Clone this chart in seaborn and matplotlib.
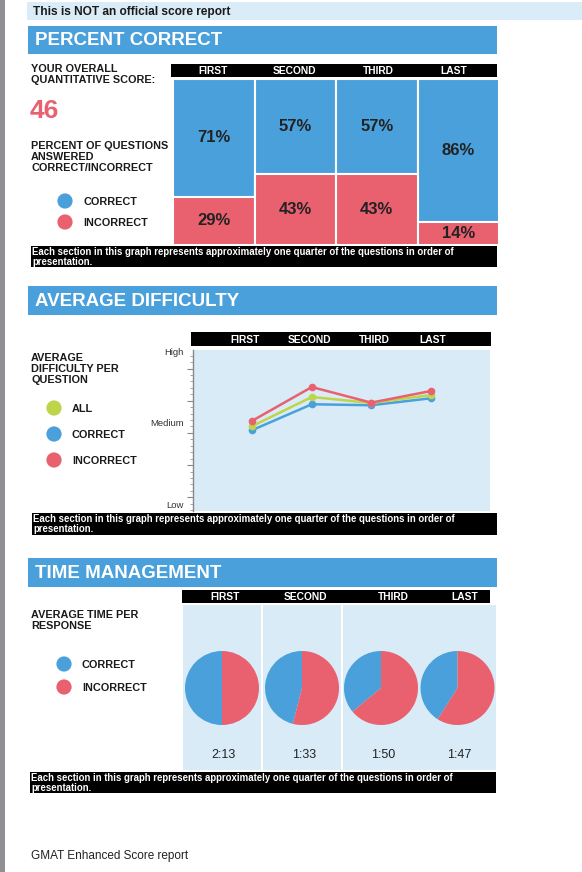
import numpy as np
import pandas as pd
import matplotlib.pyplot as plt
from matplotlib.patches import Rectangle
from matplotlib.ticker import FixedLocator
import seaborn as sns

# ---- data ----
sections = ["FIRST", "SECOND", "THIRD", "LAST"]
overall_score = 46
pct_correct = [71, 57, 57, 86]
pct_incorrect = [29, 43, 43, 14]

# difficulty on a 0 (Low) .. 100 (High) scale
diff_all = [52.8, 70.8, 67.1, 72.0]
diff_correct = [50.3, 66.3, 65.7, 70.0]
diff_incorrect = [56.1, 77.0, 67.3, 74.5]

# share of time spent on correct / incorrect answers
time_correct = [50, 46, 36, 41]
time_incorrect = [50, 54, 64, 59]
avg_time = ["2:13", "1:33", "1:50", "1:47"]

footnote = ("Each section in this graph represents approximately one quarter of the questions in order of\n"
            "presentation.")

BLUE = "#4aa0db"
RED = "#e9606f"
GREEN = "#bed44a"
LIGHT = "#d8ebf7"
DARK = "#1a1a1a"

sns.set_theme(style="white")
plt.rcParams["font.family"] = ["Liberation Sans", "DejaVu Sans"]

W, H = 582, 872
fig = plt.figure(figsize=(W / 100, H / 100), dpi=100)
fig.patch.set_facecolor("white")

# overlay axes in pixel coordinates for the page furniture
page = fig.add_axes([0, 0, 1, 1])
page.set_xlim(0, W)
page.set_ylim(H, 0)
page.axis("off")


def px_axes(x0, y0, x1, y1):
    return fig.add_axes([x0 / W, 1 - y1 / H, (x1 - x0) / W, (y1 - y0) / H])


def rect(x0, y0, x1, y1, color):
    page.add_patch(Rectangle((x0, y0), x1 - x0, y1 - y0, color=color, lw=0))


def label(x, y, s, size=7.8, weight="bold", color=DARK, **kw):
    page.text(x, y, s, fontsize=size, fontweight=weight, color=color, **kw)


def header(y0, y1, title):
    rect(28, y0, 497, y1, BLUE)
    label(35, (y0 + y1) / 2 + 0.5, title, size=13.5, color="white", va="center")


def black_bar(x0, y0, x1, y1, xs):
    rect(x0, y0, x1, y1, "black")
    for x, s in zip(xs, sections):
        label(x, (y0 + y1) / 2 + 0.5, s, size=7.4, color="white", ha="center", va="center")


def note(x0, y0, x1, y1):
    rect(x0, y0, x1, y1, "black")
    label(x0 + 1, y0 + 0.5, footnote, size=6.9, color="white", va="top", linespacing=1.0)


def dots(x, ys, colors, names, tx):
    page.scatter([x] * len(ys), ys, s=120, c=colors, linewidths=0)
    for y, n in zip(ys, names):
        label(tx, y + 1, n, va="center")


# left grey strip and top banner
rect(0, 0, 5, H, "#909094")
rect(27, 2, W, 20, "#d9ecf8")
label(33, 12, "This is NOT an official score report", size=8.6, va="center")

# =========================
# PERCENT CORRECT
# =========================
header(26, 54, "PERCENT CORRECT")
black_bar(171, 64, 497, 77, [213, 294, 378, 454])
label(31, 64, "YOUR OVERALL\nQUANTITATIVE SCORE:", va="top", linespacing=1.1)
label(30, 111, str(overall_score), size=19, color=RED, va="center")
label(31, 141, "PERCENT OF QUESTIONS\nANSWERED\nCORRECT/INCORRECT", va="top", linespacing=1.1)
dots(65, [201, 222], [BLUE, RED], ["CORRECT", "INCORRECT"], 83)

ax1 = px_axes(173, 79, 499, 245)
ax1.patch.set_alpha(0)
sns.barplot(x=sections, y=np.add(pct_correct, pct_incorrect), color=BLUE, saturation=1,
            width=1, edgecolor="white", linewidth=1.5, ax=ax1)
sns.barplot(x=sections, y=pct_incorrect, color=RED, saturation=1,
            width=1, edgecolor="white", linewidth=1.5, ax=ax1)
for i in range(len(sections)):
    ax1.text(i, pct_incorrect[i] + pct_correct[i] / 2, f"{pct_correct[i]}%",
             ha="center", va="center", fontsize=12, fontweight="bold", color="#222222")
    ax1.text(i, pct_incorrect[i] / 2, f"{pct_incorrect[i]}%",
             ha="center", va="center", fontsize=12, fontweight="bold", color="#222222")
ax1.set_xlim(-0.5, 3.5)
ax1.set_ylim(0, 100)
ax1.axis("off")
note(31, 246, 497, 267)

# =========================
# AVERAGE DIFFICULTY
# =========================
header(286, 315, "AVERAGE DIFFICULTY")
black_bar(191, 332, 491, 346, [245, 309, 374, 433])
label(31, 353, "AVERAGE\nDIFFICULTY PER\nQUESTION", va="top", linespacing=1.1)
dots(54, [408, 434, 460], [GREEN, BLUE, RED], ["ALL", "CORRECT", "INCORRECT"], 72)

df = pd.DataFrame({
    "section": sections * 3,
    "group": ["CORRECT"] * 4 + ["ALL"] * 4 + ["INCORRECT"] * 4,
    "value": diff_correct + diff_all + diff_incorrect,
})
ax2 = px_axes(193, 350, 490, 511)
ax2.set_facecolor(LIGHT)
sns.lineplot(data=df, x="section", y="value", hue="group",
             hue_order=["CORRECT", "ALL", "INCORRECT"], palette=[BLUE, GREEN, RED],
             marker="o", markersize=5.5, markeredgewidth=0, linewidth=1.8,
             sort=False, legend=False, ax=ax2)
ax2.set_xlim(-1, 4)
ax2.set_ylim(0, 100)
ax2.set_xticks([])
ax2.set_xlabel("")
ax2.set_ylabel("")
ax2.yaxis.set_major_locator(FixedLocator([8.5, 28.5, 48.5, 68.5, 88.5]))
ax2.yaxis.set_minor_locator(FixedLocator(np.arange(0.5, 100, 4)))
ax2.tick_params(axis="y", which="major", left=True, length=4, width=0.8, color="#888888", labelleft=False)
ax2.tick_params(axis="y", which="minor", left=True, length=2.5, width=0.6, color="#999999")
for side in ["top", "right", "bottom"]:
    ax2.spines[side].set_visible(False)
ax2.spines["left"].set_color("#888888")
ax2.spines["left"].set_linewidth(1)
for yv, s in [(98.5, "High"), (54.5, "Medium"), (3.5, "Low")]:
    ax2.text(-0.03, yv, s, transform=ax2.get_yaxis_transform(), ha="right", va="center",
             fontsize=6.8, color="#333333")
note(32, 513, 497, 535)

# =========================
# TIME MANAGEMENT
# =========================
header(558, 587, "TIME MANAGEMENT")
black_bar(182, 590, 490, 603, [225, 305, 393, 465])
label(31, 610, "AVERAGE TIME PER\nRESPONSE", va="top", linespacing=1.1)
dots(64, [664, 687], [BLUE, RED], ["CORRECT", "INCORRECT"], 82)

panels = [(183, 605, 261, 770), (263, 605, 341, 770), (343, 605, 419, 770), (419, 605, 496, 770)]
R = 37.0  # pie radius in pixels
cy = 688
for i, (x0, y0, x1, y1) in enumerate(panels):
    ax = px_axes(x0, y0, x1, y1)
    ax.pie([time_correct[i], time_incorrect[i]], colors=[BLUE, RED], startangle=90,
           counterclock=True, frame=True, wedgeprops={"linewidth": 0})
    ax.set_aspect("auto")
    w = (x1 - x0) / 2 / R
    ax.set_xlim(-w, w)
    ax.set_ylim(-(y1 - cy) / R, (cy - y0) / R)
    ax.set_facecolor(LIGHT)
    ax.set_xticks([])
    ax.set_yticks([])
    for sp in ax.spines.values():
        sp.set_visible(False)
    ax.text(0.05, -(755 - cy) / R, avg_time[i], ha="center", va="center", fontsize=9, color="#222222")
note(30, 772, 496, 793)

label(31, 856, "GMAT Enhanced Score report", size=8.5, weight="normal", color="#222222", va="center")

fig.savefig("out.png", dpi=100)
